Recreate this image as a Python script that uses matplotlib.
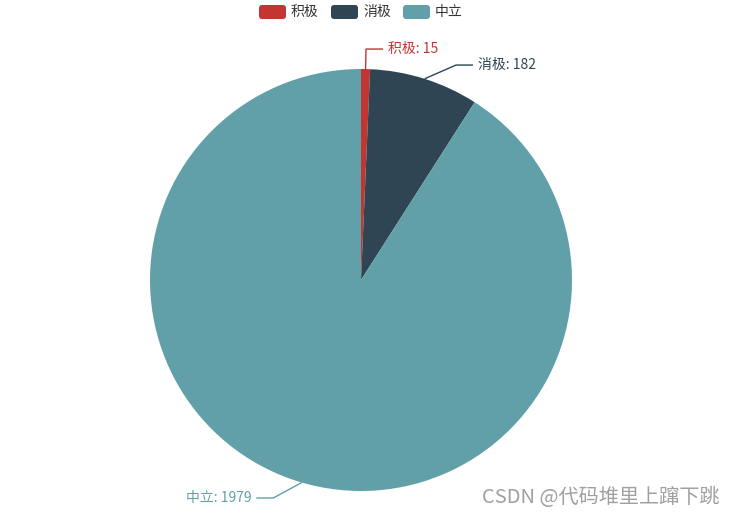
import numpy as np
import matplotlib
matplotlib.use("Agg")
import matplotlib.pyplot as plt
from matplotlib.patches import FancyBboxPatch

plt.rcParams['font.family'] = ['Noto Sans CJK SC', 'DejaVu Sans']

# data
names = ['积极', '消极', '中立']
values = [15, 182, 1979]
colors = ['#c23531', '#2f4554', '#61a0a8']

W, H = 734, 518
cx, cy, r = 361, H - 280, 211
len1, len2 = 20, 17

fig = plt.figure(figsize=(W / 100, H / 100), dpi=100)
ax = fig.add_axes([0, 0, 1, 1])
ax.set_xlim(0, W)
ax.set_ylim(0, H)
ax.set_aspect('equal')
ax.axis('off')

wedges, _ = ax.pie(values, colors=colors, startangle=90, counterclock=False,
                   center=(cx, cy), radius=r, wedgeprops=dict(linewidth=0))
ax.set_xlim(0, W)
ax.set_ylim(0, H)

# label lines, with a simple overlap push like echarts
placed = []
for w, name, v, c in zip(wedges, names, values, colors):
    mid = np.deg2rad((w.theta1 + w.theta2) / 2)
    x0, y0 = cx + r * np.cos(mid), cy + r * np.sin(mid)
    ex, ey = cx + (r + len1) * np.cos(mid), cy + (r + len1) * np.sin(mid)
    right = np.cos(mid) >= 0
    moved = False
    for (px, py, pr) in placed:
        if pr == right and abs(py - ey) < 16:
            ey = py - 16
            moved = True
    if ey < 20:
        ey = 20
        moved = True
    if moved:
        dy = ey - cy
        rr = r + len1 + 4
        dx = np.sqrt(max(rr ** 2 - dy ** 2, 0))
        ex = cx + dx if right else cx - dx
    placed.append((ex, ey, right))
    hx = ex + len2 if right else ex - len2
    ax.plot([x0, ex, hx], [y0, ey, ey], color=c, lw=1, solid_capstyle='butt')
    ax.text(hx + (5 if right else -5), ey, f'{name}: {v}', color=c, fontsize=10,
            ha='left' if right else 'right', va='center')

# legend
lx = 259
for name, c in zip(names, colors):
    ax.add_patch(FancyBboxPatch((lx + 3, H - 19 + 3), 21, 8,
                                boxstyle='round,pad=3', fc=c, ec='none'))
    ax.text(lx + 32, H - 12, name, fontsize=10, color='#333333', va='center', ha='left')
    lx += 72

ax.text(720, H - 497, 'CSDN @代码堆里上蹿下跳', fontsize=14.5, color='#a0a0a0',
        ha='right', va='center')

fig.savefig('out.png', dpi=100)
